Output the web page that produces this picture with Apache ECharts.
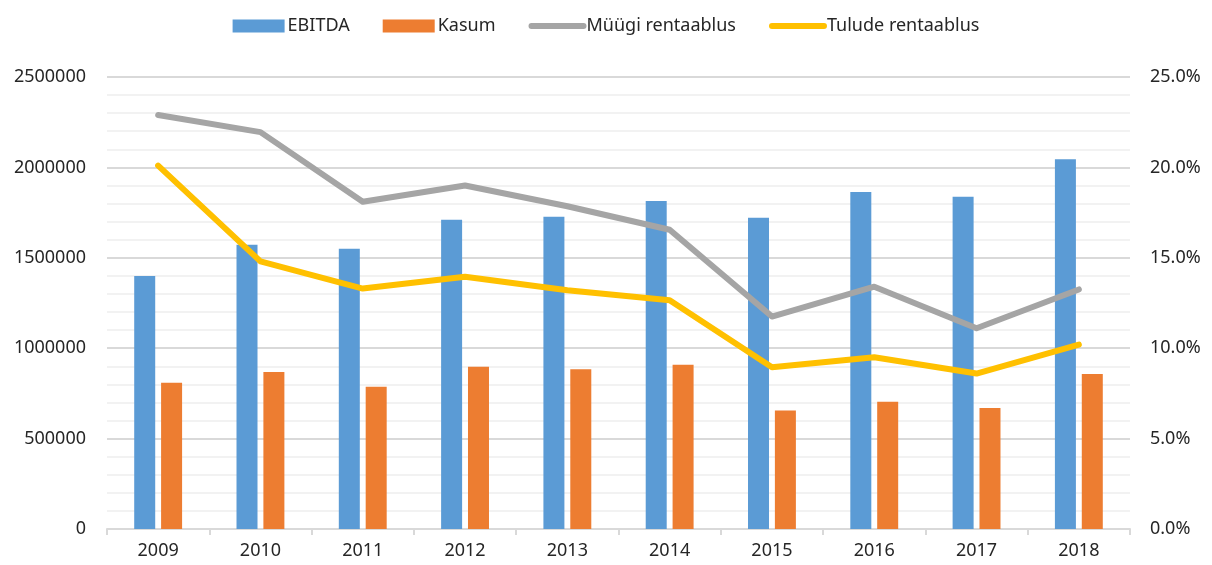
<!DOCTYPE html>
<html>
<head>
<meta charset="utf-8">
<script src="https://cdn.jsdelivr.net/npm/echarts@6/dist/echarts.min.js"></script>
<style>
  html, body { margin: 0; padding: 0; background: #ffffff; }
  #chart { width: 1212px; height: 565px; }
</style>
</head>
<body>
<div id="chart"></div>
<script>
// andmed
const years = ["2009", "2010", "2011", "2012", "2013", "2014", "2015", "2016", "2017", "2018"];
const ebitda = [1400000, 1572000, 1550000, 1710000, 1727000, 1814000, 1722000, 1864000, 1838000, 2045000];
const kasum = [809000, 868000, 787000, 898000, 883000, 909000, 656000, 704000, 669000, 857000];
const myygiRent = [22.9, 21.95, 18.1, 19.0, 17.85, 16.55, 11.75, 13.4, 11.1, 13.25];
const tuludeRent = [20.1, 14.8, 13.3, 13.95, 13.2, 12.65, 8.95, 9.5, 8.6, 10.2];

const font = "'Noto Sans', 'Open Sans', sans-serif";
const textColor = "#262626";

const myChart = echarts.init(document.getElementById("chart"));

const option = {
  animation: false,
  textStyle: { fontFamily: font },
  legend: {
    top: 12,
    left: "center",
    itemWidth: 52,
    itemHeight: 13,
    itemGap: 33,
    textStyle: { fontSize: 18, color: textColor, fontFamily: font, padding: [0, 0, 0, -2] },
    lineStyle: { width: 6, cap: "round" },
    data: [
      { name: "EBITDA", icon: "rect" },
      { name: "Kasum", icon: "rect" },
      // joone ikoon ilma punktita
      { name: "Müügi rentaablus", itemStyle: { opacity: 0 } },
      { name: "Tulude rentaablus", itemStyle: { opacity: 0 } },
    ],
  },
  grid: {
    left: 107,
    right: 82,
    top: 77,
    bottom: 36,
  },
  xAxis: {
    type: "category",
    data: years,
    axisLine: { lineStyle: { color: "#d9d9d9", width: 2 } },
    axisTick: { show: true, length: 6, lineStyle: { color: "#d9d9d9", width: 2 } },
    axisLabel: { fontSize: 18, color: textColor, margin: 13, fontFamily: font },
  },
  yAxis: [
    {
      type: "value",
      min: 0,
      max: 2500000,
      interval: 500000,
      axisLine: { show: false },
      axisTick: { show: false },
      axisLabel: {
        fontSize: 18,
        color: textColor,
        margin: 21,
        fontFamily: font,
        formatter: (v) => String(v),
      },
      splitLine: { lineStyle: { color: "#d9d9d9", width: 2 } },
      minorTick: { show: false, splitNumber: 5 },
      minorSplitLine: { show: true, lineStyle: { color: "#f2f2f2", width: 2 } },
    },
    {
      type: "value",
      min: 0,
      max: 25,
      interval: 5,
      axisLine: { show: false },
      axisTick: { show: false },
      splitLine: { show: false },
      axisLabel: {
        fontSize: 18,
        color: textColor,
        margin: 20,
        fontFamily: font,
        formatter: (v) => v.toFixed(1) + "%",
      },
    },
  ],
  series: [
    {
      name: "EBITDA",
      type: "bar",
      data: ebitda,
      barWidth: 21,
      barGap: "28%",
      itemStyle: { color: "#5b9bd5" },
    },
    {
      name: "Kasum",
      type: "bar",
      data: kasum,
      barWidth: 21,
      itemStyle: { color: "#ed7d31" },
    },
    {
      name: "Müügi rentaablus",
      type: "line",
      yAxisIndex: 1,
      data: myygiRent,
      symbol: "none",
      lineStyle: { color: "#a5a5a5", width: 6, cap: "round", join: "round" },
      itemStyle: { color: "#a5a5a5" },
    },
    {
      name: "Tulude rentaablus",
      type: "line",
      yAxisIndex: 1,
      data: tuludeRent,
      symbol: "none",
      lineStyle: { color: "#ffc000", width: 6, cap: "round", join: "round" },
      itemStyle: { color: "#ffc000" },
    },
  ],
};

myChart.setOption(option);
</script>
</body>
</html>
